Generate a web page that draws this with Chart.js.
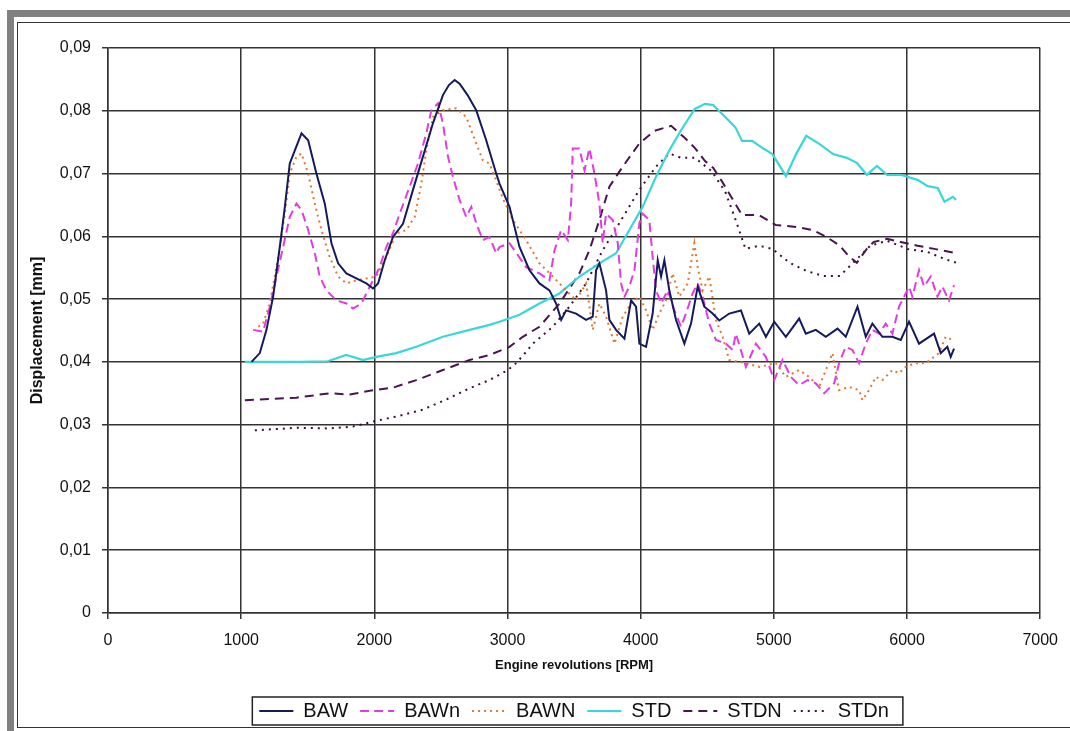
<!DOCTYPE html>
<html>
<head>
<meta charset="utf-8">
<title>Displacement vs engine revolutions</title>
<script src="https://cdn.jsdelivr.net/npm/chart.js@4/dist/chart.umd.min.js"></script>
<style>
  html, body { margin: 0; padding: 0; background: #fff; overflow: hidden; }
  body { width: 1070px; height: 731px; position: relative; font-family: 'Liberation Sans', Arial, sans-serif; }
  .band-top { position: absolute; left: 7px; top: 10px; width: 1063px; height: 7px; background: #808080; }
  .band-left { position: absolute; left: 7px; top: 10px; width: 7px; height: 721px; background: #808080; }
  .frame { position: absolute; left: 17px; top: 22px; width: 1060px; height: 704px; border: 1px solid #333; border-right: none; }
  .chart-wrap { position: absolute; left: 18px; top: 24px; width: 1052px; height: 720px; }
</style>
</head>
<body>
<div class="band-top"></div>
<div class="band-left"></div>
<div class="frame"></div>
<div class="chart-wrap"><canvas id="chart"></canvas></div>
<script>
// values: rpm / displacement [mm]
var bawRpm = [1078,1140,1190,1240,1290,1328,1365,1403,1453,1503,1565,1628,1678,1728,1790,1865,1940,1990,2028,2078,2140,2215,2290,2365,2440,2515,2560,2603,2640,2700,2765,2840,2915,2940,3015,3090,3165,3240,3315,3365,3403,3440,3515,3590,3640,3665,3690,3740,3765,3815,3878,3928,3965,3990,4040,4090,4128,4153,4178,4215,4265,4328,4378,4428,4478,4540,4590,4665,4753,4815,4890,4940,5003,5090,5190,5240,5315,5390,5478,5540,5628,5690,5740,5815,5890,5953,6015,6090,6203,6253,6303,6328,6353];
var bawVal = [0.0400,0.0414,0.0451,0.0504,0.0583,0.0647,0.0716,0.0737,0.0764,0.0753,0.0700,0.0652,0.0589,0.0557,0.0541,0.0533,0.0525,0.0517,0.0525,0.0562,0.0599,0.0620,0.0674,0.0727,0.0780,0.0825,0.0841,0.0849,0.0843,0.0825,0.0801,0.0753,0.0700,0.0684,0.0647,0.0583,0.0546,0.0525,0.0514,0.0493,0.0467,0.0482,0.0477,0.0467,0.0472,0.0546,0.0557,0.0514,0.0467,0.0451,0.0437,0.0498,0.0488,0.0429,0.0424,0.0477,0.0562,0.0536,0.0562,0.0514,0.0467,0.0429,0.0461,0.0520,0.0488,0.0477,0.0466,0.0477,0.0482,0.0445,0.0461,0.0440,0.0464,0.0440,0.0469,0.0445,0.0451,0.0440,0.0453,0.0440,0.0488,0.0440,0.0461,0.0440,0.0440,0.0435,0.0464,0.0429,0.0445,0.0414,0.0424,0.0408,0.0421];

var bawnRpm = [1090,1165,1215,1265,1315,1365,1415,1453,1503,1553,1590,1640,1715,1790,1840,1903,1940,1990,2040,2090,2140,2190,2265,2328,2390,2428,2478,2515,2553,2590,2640,2690,2728,2765,2815,2865,2915,2940,3015,3140,3240,3315,3353,3403,3453,3478,3490,3540,3578,3615,3653,3690,3715,3740,3790,3828,3853,3878,3915,3953,3990,4015,4065,4090,4115,4153,4203,4253,4303,4340,4390,4428,4465,4515,4565,4640,4690,4715,4790,4865,4940,5003,5065,5128,5190,5253,5315,5378,5453,5490,5540,5590,5640,5690,5740,5790,5840,5890,5940,5978,6015,6040,6090,6128,6178,6228,6265,6315,6353];
var bawnVal = [0.0451,0.0448,0.0488,0.0536,0.0583,0.0631,0.0652,0.0642,0.0610,0.0573,0.0536,0.0514,0.0498,0.0493,0.0485,0.0493,0.0509,0.0530,0.0551,0.0583,0.0605,0.0636,0.0679,0.0716,0.0764,0.0801,0.0812,0.0780,0.0727,0.0695,0.0658,0.0631,0.0647,0.0621,0.0594,0.0599,0.0573,0.0583,0.0589,0.0551,0.0541,0.0530,0.0578,0.0610,0.0594,0.0652,0.0740,0.0740,0.0705,0.0740,0.0700,0.0652,0.0589,0.0636,0.0626,0.0589,0.0525,0.0504,0.0520,0.0546,0.0621,0.0636,0.0626,0.0567,0.0514,0.0493,0.0514,0.0482,0.0456,0.0477,0.0509,0.0525,0.0504,0.0461,0.0435,0.0429,0.0419,0.0445,0.0392,0.0429,0.0408,0.0371,0.0403,0.0376,0.0363,0.0371,0.0366,0.0350,0.0366,0.0398,0.0424,0.0419,0.0398,0.0429,0.0451,0.0445,0.0461,0.0445,0.0488,0.0504,0.0520,0.0504,0.0546,0.0520,0.0536,0.0504,0.0520,0.0498,0.0522];

var bawNRpm = [1128,1165,1215,1278,1328,1365,1415,1453,1503,1553,1603,1665,1728,1790,1865,1940,2015,2090,2165,2240,2303,2353,2390,2440,2515,2615,2690,2765,2815,2865,2915,2965,3040,3140,3240,3340,3440,3515,3590,3640,3690,3740,3803,3865,3928,3990,4040,4090,4140,4190,4240,4290,4353,4403,4428,4465,4515,4565,4615,4665,4790,4890,5015,5090,5190,5265,5340,5440,5490,5565,5640,5665,5715,5765,5815,5890,5940,5990,6065,6140,6240,6290,6340];
var bawNVal = [0.0456,0.0461,0.0493,0.0567,0.0636,0.0700,0.0727,0.0732,0.0700,0.0652,0.0610,0.0567,0.0536,0.0525,0.0530,0.0533,0.0536,0.0567,0.0605,0.0610,0.0631,0.0684,0.0737,0.0790,0.0801,0.0804,0.0790,0.0748,0.0721,0.0716,0.0689,0.0660,0.0626,0.0594,0.0557,0.0536,0.0514,0.0498,0.0525,0.0451,0.0493,0.0472,0.0429,0.0472,0.0493,0.0504,0.0482,0.0451,0.0477,0.0498,0.0541,0.0504,0.0525,0.0589,0.0551,0.0514,0.0536,0.0467,0.0440,0.0403,0.0398,0.0392,0.0398,0.0376,0.0387,0.0376,0.0360,0.0414,0.0355,0.0360,0.0355,0.0339,0.0355,0.0376,0.0371,0.0387,0.0382,0.0392,0.0398,0.0398,0.0414,0.0440,0.0435];

var stdRpm = [1028,1440,1650,1790,1915,2015,2165,2315,2515,2715,2865,2940,3090,3240,3390,3540,3690,3815,3915,4015,4115,4215,4303,4406,4483,4545,4635,4710,4761,4837,4913,4989,5091,5167,5243,5344,5445,5547,5623,5698,5774,5850,5952,6079,6155,6231,6281,6345,6368];
var stdVal = [0.0400,0.0400,0.0401,0.0411,0.0403,0.0408,0.0414,0.0424,0.0440,0.0451,0.0459,0.0464,0.0475,0.0493,0.0509,0.0536,0.0557,0.0573,0.0610,0.0647,0.0695,0.0737,0.0769,0.0803,0.0811,0.0809,0.0790,0.0774,0.0752,0.0752,0.0741,0.0731,0.0696,0.0731,0.0760,0.0747,0.0731,0.0725,0.0717,0.0698,0.0712,0.0698,0.0698,0.0690,0.0680,0.0677,0.0655,0.0663,0.0658];

var stdNRpm = [1028,1240,1415,1665,1815,1965,2140,2315,2515,2715,2865,3015,3115,3240,3390,3540,3615,3690,3765,3865,3990,4102,4229,4330,4406,4483,4545,4609,4685,4761,4888,5015,5167,5293,5395,5496,5560,5623,5698,5750,5850,5952,6079,6205,6370];
var stdNVal = [0.0339,0.0341,0.0343,0.0350,0.0348,0.0354,0.0359,0.0371,0.0387,0.0403,0.0411,0.0424,0.0440,0.0456,0.0493,0.0541,0.0578,0.0626,0.0679,0.0711,0.0748,0.0768,0.0776,0.0757,0.0741,0.0720,0.0709,0.0688,0.0661,0.0634,0.0634,0.0618,0.0615,0.0610,0.0599,0.0585,0.0569,0.0558,0.0580,0.0591,0.0596,0.0591,0.0585,0.0580,0.0573];

var stdnRpm = [1103,1415,1665,1840,1990,2165,2365,2540,2715,2865,3003,3065,3140,3190,3340,3465,3590,3715,3840,3990,4115,4215,4305,4406,4533,4635,4710,4787,4888,4989,5117,5243,5369,5496,5572,5648,5724,5850,6003,6155,6281,6370];
var stdnVal = [0.0291,0.0295,0.0294,0.0297,0.0305,0.0313,0.0324,0.0340,0.0358,0.0371,0.0387,0.0398,0.0416,0.0429,0.0456,0.0488,0.0525,0.0578,0.0621,0.0674,0.0711,0.0732,0.0725,0.0725,0.0704,0.0671,0.0628,0.0580,0.0585,0.0580,0.0558,0.0545,0.0537,0.0537,0.0553,0.0569,0.0585,0.0593,0.0580,0.0575,0.0564,0.0558];

var seriesNames = ['BAW', 'BAWn', 'BAWN', 'STD', 'STDN', 'STDn'];
var yTicks = [0, 0.01, 0.02, 0.03, 0.04, 0.05, 0.06, 0.07, 0.08, 0.09];
var xTicks = [0, 1000, 2000, 3000, 4000, 5000, 6000, 7000];

var fontFamily = "'Liberation Sans', Arial, sans-serif";

function pairs(xs, ys) {
  return xs.map(function(x, i) { return { x: x, y: ys[i] }; });
}

function line(label, xs, ys, color, dash, width) {
  return {
    label: label,
    data: pairs(xs, ys),
    borderColor: color,
    backgroundColor: color,
    borderWidth: width,
    borderDash: dash,
    pointRadius: 0,
    tension: 0,
    fill: false
  };
}

// legend samples must keep the dash of the series
function legendLabels(chart) {
  return chart.data.datasets.map(function(ds, i) {
    return {
      text: ds.label,
      datasetIndex: i,
      hidden: false,
      strokeStyle: ds.borderColor,
      fillStyle: ds.borderColor,
      lineWidth: 2,
      lineDash: ds.borderDash,
      lineCap: 'butt',
      pointStyle: 'line',
      fontColor: '#111'
    };
  });
}

// draws the box around the legend like the excel one
var legendFrame = {
  id: 'legendFrame',
  afterDraw: function(chart) {
    var boxes = chart.legend.legendHitBoxes;
    if (!boxes || !boxes.length) return;
    var first = boxes[0], last = boxes[boxes.length - 1];
    var ctx = chart.ctx;
    ctx.save();
    ctx.strokeStyle = '#222';
    ctx.lineWidth = 1.5;
    ctx.strokeRect(first.left - 7, first.top - 4, last.left + last.width - first.left + 21, first.height + 8);
    ctx.restore();
  }
};

var ctx = document.getElementById('chart');
var myChart = new Chart(ctx, {
  type: 'line',
  data: {
    datasets: [
      line(seriesNames[0], bawRpm, bawVal, '#141a5c', [], 2),
      line(seriesNames[1], bawnRpm, bawnVal, '#e03ce0', [9, 5], 2),
      line(seriesNames[2], bawNRpm, bawNVal, '#e0782e', [2, 4], 2),
      line(seriesNames[3], stdRpm, stdVal, '#3ad6d8', [], 2.2),
      line(seriesNames[4], stdNRpm, stdNVal, '#4a1450', [9, 6], 2),
      line(seriesNames[5], stdnRpm, stdnVal, '#3a1038', [2, 5], 2)
    ]
  },
  options: {
    responsive: true,
    maintainAspectRatio: false,
    animation: false,
    devicePixelRatio: 1,
    layout: { padding: { left: 0, right: 29, top: 24, bottom: 13 } },
    plugins: {
      tooltip: { enabled: false },
      legend: {
        position: 'bottom',
        fullSize: false,
        labels: {
          usePointStyle: true,
          pointStyle: 'line',
          pointStyleWidth: 34,
          padding: 12,
          color: '#111',
          font: { family: fontFamily, size: 20 },
          generateLabels: legendLabels
        }
      }
    },
    scales: {
      x: {
        type: 'linear',
        min: 0,
        max: 7000,
        afterBuildTicks: function(scale) {
          scale.ticks = xTicks.map(function(v) { return { value: v }; });
        },
        afterFit: function(scale) { scale.height = 76; },
        grid: { color: '#333', lineWidth: 1.5, tickLength: 6, tickColor: '#333' },
        border: { color: '#333', width: 1.5 },
        ticks: {
          color: '#111',
          padding: 12,
          maxRotation: 0,
          font: { family: fontFamily, size: 16 },
          callback: function(v) { return String(v); }
        },
        title: {
          display: true,
          text: 'Engine revolutions [RPM]',
          color: '#111',
          padding: { top: 4, bottom: 16 },
          font: { family: fontFamily, size: 13, weight: 'bold' }
        }
      },
      y: {
        type: 'linear',
        min: 0,
        max: 0.09,
        afterBuildTicks: function(scale) {
          scale.ticks = yTicks.map(function(v) { return { value: v }; });
        },
        afterFit: function(scale) { scale.width = 90; },
        grid: { color: '#333', lineWidth: 1.5, tickLength: 6, tickColor: '#333' },
        border: { color: '#333', width: 1.5 },
        ticks: {
          color: '#111',
          padding: 11,
          font: { family: fontFamily, size: 16 },
          callback: function(v) { return v === 0 ? '0' : v.toFixed(2).replace('.', ','); }
        },
        title: {
          display: true,
          text: 'Displacement [mm]',
          color: '#111',
          padding: { top: 10, bottom: 0 },
          font: { family: fontFamily, size: 16, weight: 'bold' }
        }
      }
    }
  },
  plugins: [legendFrame]
});
</script>
</body>
</html>
